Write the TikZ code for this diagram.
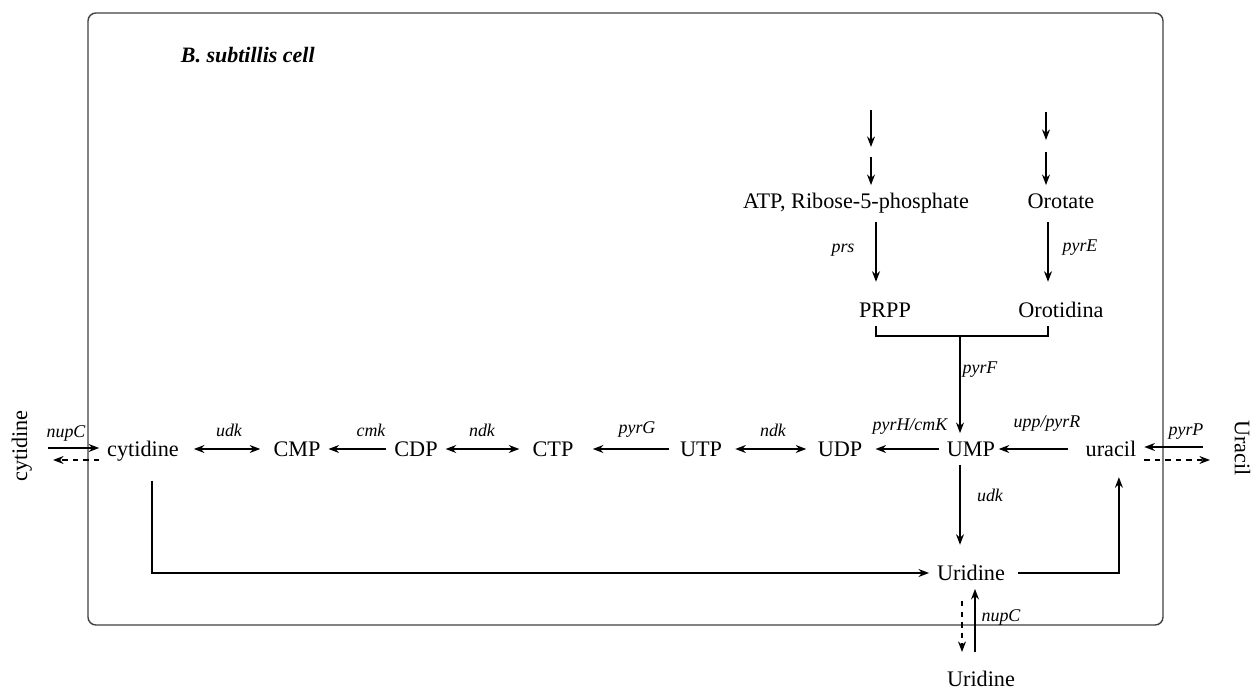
\documentclass[tikz,border=0pt]{standalone}
\usepackage{fontspec}
\setmainfont{Liberation Serif}
\usetikzlibrary{arrows.meta, positioning, calc}

\tikzset{
  met/.style={font=\fontsize{12.65}{15}\selectfont, text height=10.5pt, text depth=2.5pt, inner xsep=4pt, inner ysep=2pt},
  enz/.style={font=\fontsize{10.2}{12}\selectfont\itshape, inner sep=0pt},
  cellwall/.style={line width=0.8pt, black!75, rounded corners=4.5pt}
}

\begin{document}
\begin{tikzpicture}[x=0.02cm, y=-0.02cm, >={Stealth[length=6pt,width=4.5pt]}, line width=1.1pt]
  \useasboundingbox (0,0) rectangle (1251,692);

  % Cell
  \draw[cellwall] (88,13) rectangle (1163,625);
  \node[anchor=west, inner sep=0pt, font=\fontsize{12.5}{15}\selectfont\bfseries\itshape] (title) at (180,55) {B. subtillis cell};

  % Main row
  \node[met] (cyt) at (143,449) {cytidine};
  \node[met] (CMP) at (297,449) {CMP};
  \node[met] (CDP) at (416,449) {CDP};
  \node[met] (CTP) at (553,449) {CTP};
  \node[met] (UTP) at (701,449) {UTP};
  \node[met] (UDP) at (840,449) {UDP};
  \node[met] (UMP) at (971,449) {UMP};
  \node[met] (ura) at (1111,449) {uracil};

  % De novo branch
  \node[met] (ATP) at (856,201) {ATP, Ribose-5-phosphate};
  \node[met] (Oro) at (1061,201) {Orotate};
  \node[met] (PRPP) at (885,310) {PRPP};
  \node[met] (OMP) at (1061,310) {Orotidina};

  % Uridine inside / outside, outside substrates
  \node[met] (Uri) at (971,573) {Uridine};
  \node[met] (UriOut) at (981,679) {Uridine};
  \node[met, rotate=90] (cytOut) at (20,446) {cytidine};
  \node[met, rotate=-90] (uraOut) at (1242,448) {Uracil};

  % Row reactions
  \draw[<->, shorten <=4pt, shorten >=3pt] (cyt) -- (CMP);
  \draw[->] (CDP) -- (CMP);
  \draw[<->, shorten >=3pt] (CDP) -- (CTP);
  \draw[->, shorten <=2pt, shorten >=6.5pt] (UTP) -- (CTP);
  \draw[<->, shorten <=3pt, shorten >=2pt] (UTP) -- (UDP);
  \draw[->, shorten >=3pt] (UMP) -- (UDP);
  \draw[->, shorten <=5.5pt, shorten >=-2.5pt] (ura) -- (UMP);

  % Enzymes
  \node[enz] (e1) at (229,430) {udk};
  \node[enz] (e2) at (371,430) {cmk};
  \node[enz] (e3) at (482,430) {ndk};
  \node[enz] (e4) at (637,430) {pyrG};
  \node[enz] (e5) at (773,430) {ndk};
  \node[enz] (e6) at (910,427) {pyrH/cmK};
  \node[enz] (e7) at (1047,424) {upp/pyrR};
  \node[enz] (e8) at (980,370) {pyrF};
  \node[enz] (e9) at (990,495) {udk};
  \node[enz] (e10) at (843,250) {prs};
  \node[enz] (e11) at (1080,248) {pyrE};
  \node[enz] (e12) at (66,433) {nupC};
  \node[enz] (e13) at (1186,432) {pyrP};
  \node[enz] (e14) at (1001,617) {nupC};

  % De novo arrows
  \coordinate (lc) at (876,0);
  \coordinate (rc) at (1048,0);
  \coordinate (lt1) at (871,110);
  \coordinate (lt2) at (871,147);
  \coordinate (rt1) at (1046,112);
  \coordinate (rt2) at (1046,140);
  \draw[->] (lt1) -- (lt2);
  \draw[->] (lt2) ++(0,10) -- (ATP.north -| lt2);
  \draw[->] (rt1) -- (rt2);
  \draw[->] (rt2) ++(0,12) -- (Oro.north -| rt2);
  \draw[->, shorten <=3pt, shorten >=7pt] (ATP.south -| lc) -- (PRPP.north -| lc);
  \draw[->, shorten <=3pt, shorten >=7pt] (Oro.south -| rc) -- (OMP.north -| rc);

  % Join to UMP
  \coordinate (brk) at (960,336);
  \draw (PRPP.south -| lc) |- (brk) -| (OMP.south -| rc);
  \draw[->] (brk) -- (brk |- UMP.north);
  \draw[->, shorten >=7pt] (UMP.south -| brk) -- (Uri.north -| brk);

  % Salvage lines
  \draw[->] ([xshift=5pt, yshift=-9pt]cyt.south) |- (Uri.west);
  \draw[->, shorten <=3pt, shorten >=7pt] (Uri.east) -| ([xshift=4.5pt]ura.south);

  % Transport
  \coordinate (cin) at (48,448);
  \coordinate (cout) at (53,460);
  \draw[->] (cin) -- (cin -| cyt.west);
  \draw[->, dashed] (cyt.west |- cout) -- (cout);
  \coordinate (pin) at (1203,447);
  \coordinate (pout) at (1210,460);
  \draw[->] (pin) -- (pin -| ura.east);
  \draw[->, dashed] (ura.east |- pout) -- (pout);
  \coordinate (uin) at (975,652);
  \coordinate (uout) at (962,652);
  \draw[->] (uin) -- (uin |- Uri.south);
  \draw[->, dashed, shorten <=7pt] (uout |- Uri.south) -- (uout);
\end{tikzpicture}
\end{document}
